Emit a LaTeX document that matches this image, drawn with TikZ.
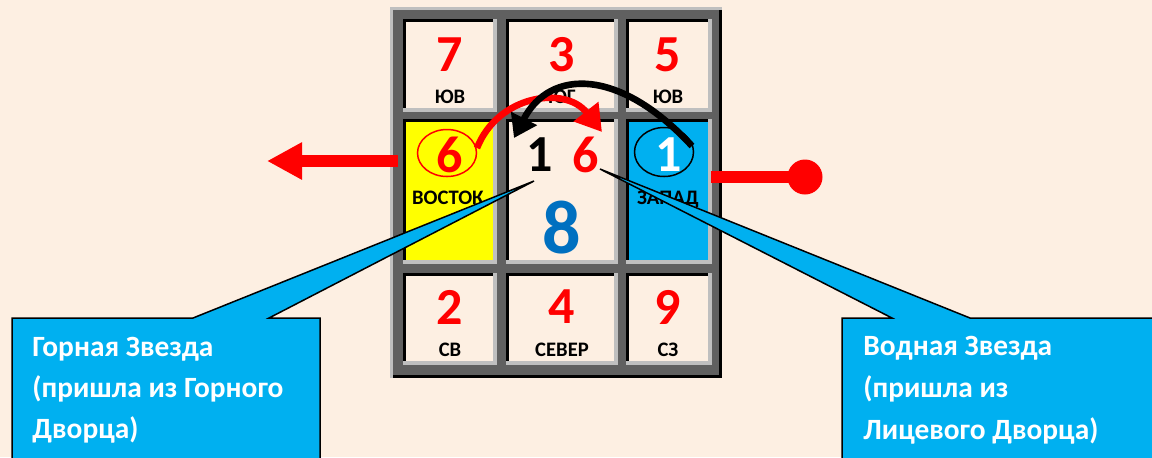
\documentclass[tikz,border=0pt]{standalone}
\usepackage{fontspec}
\setmainfont{Carlito}
\usetikzlibrary{arrows.meta}
\definecolor{bgc}{RGB}{253,239,226}
\definecolor{dgray}{RGB}{96,96,96}
\definecolor{lgray}{RGB}{191,191,191}
\definecolor{cyanb}{RGB}{0,176,240}
\definecolor{blueeight}{RGB}{0,112,192}
\definecolor{yel}{RGB}{255,255,0}
\newcommand\gcell[5]{%
  \fill[lgray] (#1,#2) rectangle (#3,#4);
  \fill[black] (#1,#2) rectangle ({#3-4},{#4-4});
  \fill[#5] ({#1+3},{#2+3}) rectangle ({#3-4},{#4-4});}
\begin{document}
\begin{tikzpicture}[x=0.5pt,y=-0.5pt,
  num/.style={font=\fontsize{26}{26}\selectfont\bfseries, text=red, inner sep=0pt},
  lab/.style={font=\fontsize{10.3}{10.3}\selectfont\bfseries, inner sep=0pt, anchor=base},
  ctext/.style={font=\fontsize{14.7}{14.7}\selectfont\bfseries, text=white, anchor=base west, inner sep=0pt},
  callout/.style={fill=cyanb, draw=black, line width=0.75pt, line join=miter},
  bigarrow/.style={line width=3.3pt}]
\useasboundingbox (0,0) rectangle (1152,457);
\clip (0,0) rectangle (1152,457);
\fill[bgc] (0,0) rectangle (1152,457);
% outer frame
\fill[lgray] (390,7) rectangle (722,378);
\fill[black] (393,10) rectangle (722,378);
\fill[dgray] (393,10) rectangle (719,375);
% cells
\gcell{403}{19}{497}{112}{bgc}
\gcell{506}{19}{618}{112}{bgc}
\gcell{626}{19}{712}{112}{bgc}
\gcell{403}{119}{497}{264}{yel}
\gcell{506}{119}{618}{264}{bgc}
\gcell{626}{119}{712}{264}{cyanb}
\gcell{403}{273}{497}{365}{bgc}
\gcell{506}{273}{618}{365}{bgc}
\gcell{626}{273}{712}{365}{bgc}
% numbers and labels
\node[num] (n7) at (450,55) {7};
\node[num] (n3) at (562,55) {3};
\node[num] (n5) at (668,55) {5};
\node[lab] (l1) at (450,103) {ЮВ};
\node[lab] (l2) at (562,103) {ЮГ};
\node[lab] (l3) at (668,103) {ЮВ};
\node[num] (e6) at (450,155) {6};
\node[lab] (l4) at (448,204) {ВОСТОК};
\node[num, text=black] (c1) at (540,155) {1};
\node[num] (c6) at (586,155) {6};
\node[num, text=blueeight, font=\fontsize{38}{38}\selectfont\bfseries] (c8) at (562,228) {8};
\node[num, text=white] (w1) at (669,155) {1};
\node[lab] (l5) at (668,204) {ЗАПАД};
\node[num] (n2) at (450,307) {2};
\node[num] (n4) at (562,307) {4};
\node[num] (n9) at (668,307) {9};
\node[lab] (l6) at (450,356) {СВ};
\node[lab] (l7) at (562,356) {СЕВЕР};
\node[lab] (l8) at (668,356) {СЗ};
% ellipses
\draw[red, line width=0.75pt] (e6.center) ++(-3,-2) ellipse [x radius=29.5, y radius=23.5];
\draw[black, line width=0.75pt] (w1.center) ++(-5,-3) ellipse [x radius=29.5, y radius=24.5];
% side connectors
\coordinate (eastout) at (398,161);
\coordinate (eastend) at (267,161);
\draw[red, line width=6pt, -{Triangle[length=17.5pt,width=17.5pt]}] (eastout) -- (eastend);
\coordinate (westout) at (711,177);
\node[circle, fill=red, minimum size=17.5pt, inner sep=0pt] (dot) at (805,177) {};
\draw[red, line width=6pt] (westout) -- (dot.center);
% curved arrows
\coordinate (rs) at (477,148);
\coordinate (re) at (602,132);
\draw[red, bigarrow, -{Triangle[length=13pt,width=15pt]}] (rs) .. controls (498,95) and (565,85) .. (re);
\coordinate (bs) at (692,146);
\coordinate (be) at (514,138);
\draw[black, bigarrow, -{Triangle[length=11pt,width=14pt]}] (bs) .. controls (620,68) and (550,68) .. (be);
% callouts
\coordinate (tipL) at (534,181);
\coordinate (tipR) at (600,169);
\path[callout] (12,318) -- (193,318) -- (tipL) -- (269,318) -- (320,318) -- (320,470) -- (12,470) -- cycle;
\path[callout] (842,318) -- (892,318) -- (tipR) -- (970,318) -- (1160,318) -- (1160,470) -- (842,470) -- cycle;
\node[ctext] (ta1) at (32,356) {Горная Звезда};
\node[ctext] (ta2) at (32,397) {(пришла из Горного};
\node[ctext] (ta3) at (32,438) {Дворца)};
\node[ctext] (tb1) at (863,355) {Водная Звезда};
\node[ctext] (tb2) at (863,397) {(пришла из};
\node[ctext] (tb3) at (863,439) {Лицевого Дворца)};
\end{tikzpicture}
\end{document}
